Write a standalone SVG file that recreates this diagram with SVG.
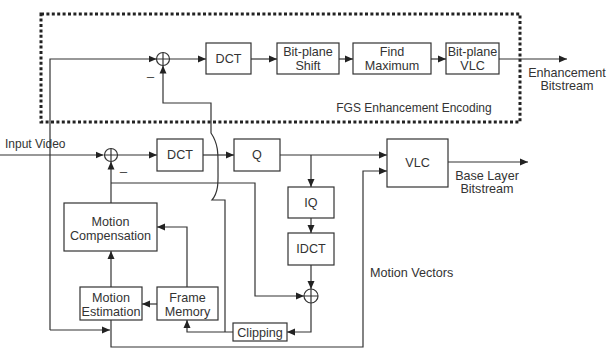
<svg xmlns="http://www.w3.org/2000/svg" width="607" height="348" viewBox="0 0 607 348">
<defs>
<marker id="ah" viewBox="0 0 8 8" refX="8" refY="4" markerWidth="8" markerHeight="8" markerUnits="userSpaceOnUse" orient="auto">
<path d="M0,0.5 L8,4 L0,7.5 Z" fill="#222"/>
</marker>
<style>
.box{fill:#fff;stroke:#333;stroke-width:1.2}
.ln{fill:none;stroke:#333;stroke-width:1.2}
.arr{fill:none;stroke:#333;stroke-width:1.2;marker-end:url(#ah)}
.t{font-family:"Liberation Sans",Arial,sans-serif;font-size:12.6px;fill:#333;text-anchor:middle}
.tl{font-family:"Liberation Sans",Arial,sans-serif;font-size:12.6px;fill:#333}
.sm{font-size:12px}
.sum{fill:#fff;stroke:#333;stroke-width:1.2}
</style>
</defs>
<rect width="607" height="348" fill="#fff"/>

<g id="fgs-border">
<rect x="41" y="14" width="479" height="108" fill="none" stroke="#222" stroke-width="3" stroke-dasharray="3 2.4"/>
<text class="t sm" x="414" y="112">FGS Enhancement  Encoding</text>
</g>

<g id="connectors">
<path class="arr" d="M0,155 H103.5"/>
<path class="arr" d="M50,330 V59 H156.5"/>
<path class="arr" d="M50,330 H110"/>
<path class="arr" d="M117.5,155 H157"/>
<path class="arr" d="M203,155 H234"/>
<path class="arr" d="M280,155 H387"/>
<path class="arr" d="M311,155 V187"/>
<path class="arr" d="M311,218 V233"/>
<path class="arr" d="M311,265 V289"/>
<path class="arr" d="M311,303 V332 H287"/>
<path class="arr" d="M233,332 H187 V320"/>
<path class="arr" d="M187,287 V227 H157"/>
<path class="arr" d="M157,304 H142"/>
<path class="arr" d="M111,287 V251"/>
<path class="arr" d="M111,203 V161.5"/>
<path class="arr" d="M111,183 H255 V296 H304"/>
<path class="arr" d="M111,320 V347 H363 V171 H387"/>
<path class="arr" d="M448,162 H528"/>
<path class="arr" d="M169.5,59 H206"/>
<path class="arr" d="M251,59 H277"/>
<path class="arr" d="M339,59 H353"/>
<path class="arr" d="M431,59 H446"/>
<path class="arr" d="M499,59 H567"/>
<path class="arr" d="M225,332 V200 H212 C219,192 218,180 218,170 C218,155 219,145 211,133 V103 H163 V65.5"/>
</g>

<g id="sum-top">
<circle class="sum" cx="163" cy="59" r="6.5"/>
<path class="ln" d="M156.5,59 H169.5 M163,52.5 V65.5"/>
<text class="tl" x="147" y="75">_</text>
</g>
<g id="sum-base">
<circle class="sum" cx="111" cy="155" r="6.5"/>
<path class="ln" d="M104.5,155 H117.5 M111,148.5 V161.5"/>
<text class="tl" x="120" y="170">_</text>
</g>
<g id="sum-recon">
<circle class="sum" cx="311" cy="296" r="7"/>
<path class="ln" d="M304,296 H318 M311,289 V303"/>
</g>

<g id="dct-top"><rect class="box" x="206" y="43" width="45" height="31"/><text class="t" x="228.5" y="63">DCT</text></g>
<g id="bitplane-shift"><rect class="box" x="277" y="43" width="62" height="31"/><text class="t" x="308" y="56">Bit-plane</text><text class="t" x="308" y="70">Shift</text></g>
<g id="find-maximum"><rect class="box" x="353" y="43" width="78" height="31"/><text class="t" x="392" y="56">Find</text><text class="t" x="392" y="70">Maximum</text></g>
<g id="bitplane-vlc"><rect class="box" x="446" y="43" width="53" height="31"/><text class="t" x="472.5" y="56">Bit-plane</text><text class="t" x="472.5" y="70">VLC</text></g>

<g id="enh-label"><text class="t" x="567" y="77">Enhancement</text><text class="t" x="567" y="90">Bitstream</text></g>
<g id="input-label"><text class="tl sm" x="5" y="148">Input Video</text></g>

<g id="dct"><rect class="box" x="157" y="139" width="46" height="32"/><text class="t" x="180" y="159">DCT</text></g>
<g id="q"><rect class="box" x="234" y="139" width="46" height="32"/><text class="t" x="257" y="159">Q</text></g>
<g id="vlc"><rect class="box" x="387" y="139" width="61" height="48"/><text class="t" x="417.5" y="167">VLC</text></g>
<g id="base-label"><text class="t" x="487" y="180">Base Layer</text><text class="t" x="487" y="193">Bitstream</text></g>
<g id="iq"><rect class="box" x="288" y="187" width="46" height="31"/><text class="t" x="311" y="207">IQ</text></g>
<g id="idct"><rect class="box" x="288" y="233" width="46" height="32"/><text class="t" x="311" y="253">IDCT</text></g>
<g id="mv-label"><text class="tl" x="370" y="277">Motion Vectors</text></g>
<g id="motion-compensation"><rect class="box" x="64" y="203" width="93" height="48"/><text class="t" x="110.5" y="226">Motion</text><text class="t" x="110.5" y="240">Compensation</text></g>
<g id="motion-estimation"><rect class="box" x="80" y="287" width="62" height="33"/><text class="t" x="111" y="302">Motion</text><text class="t" x="111" y="316">Estimation</text></g>
<g id="frame-memory"><rect class="box" x="157" y="287" width="61" height="33"/><text class="t" x="187.5" y="302">Frame</text><text class="t" x="187.5" y="316">Memory</text></g>
<g id="clipping"><rect class="box" x="233" y="323" width="54" height="18"/><text class="t" x="260" y="337">Clipping</text></g>
</svg>
